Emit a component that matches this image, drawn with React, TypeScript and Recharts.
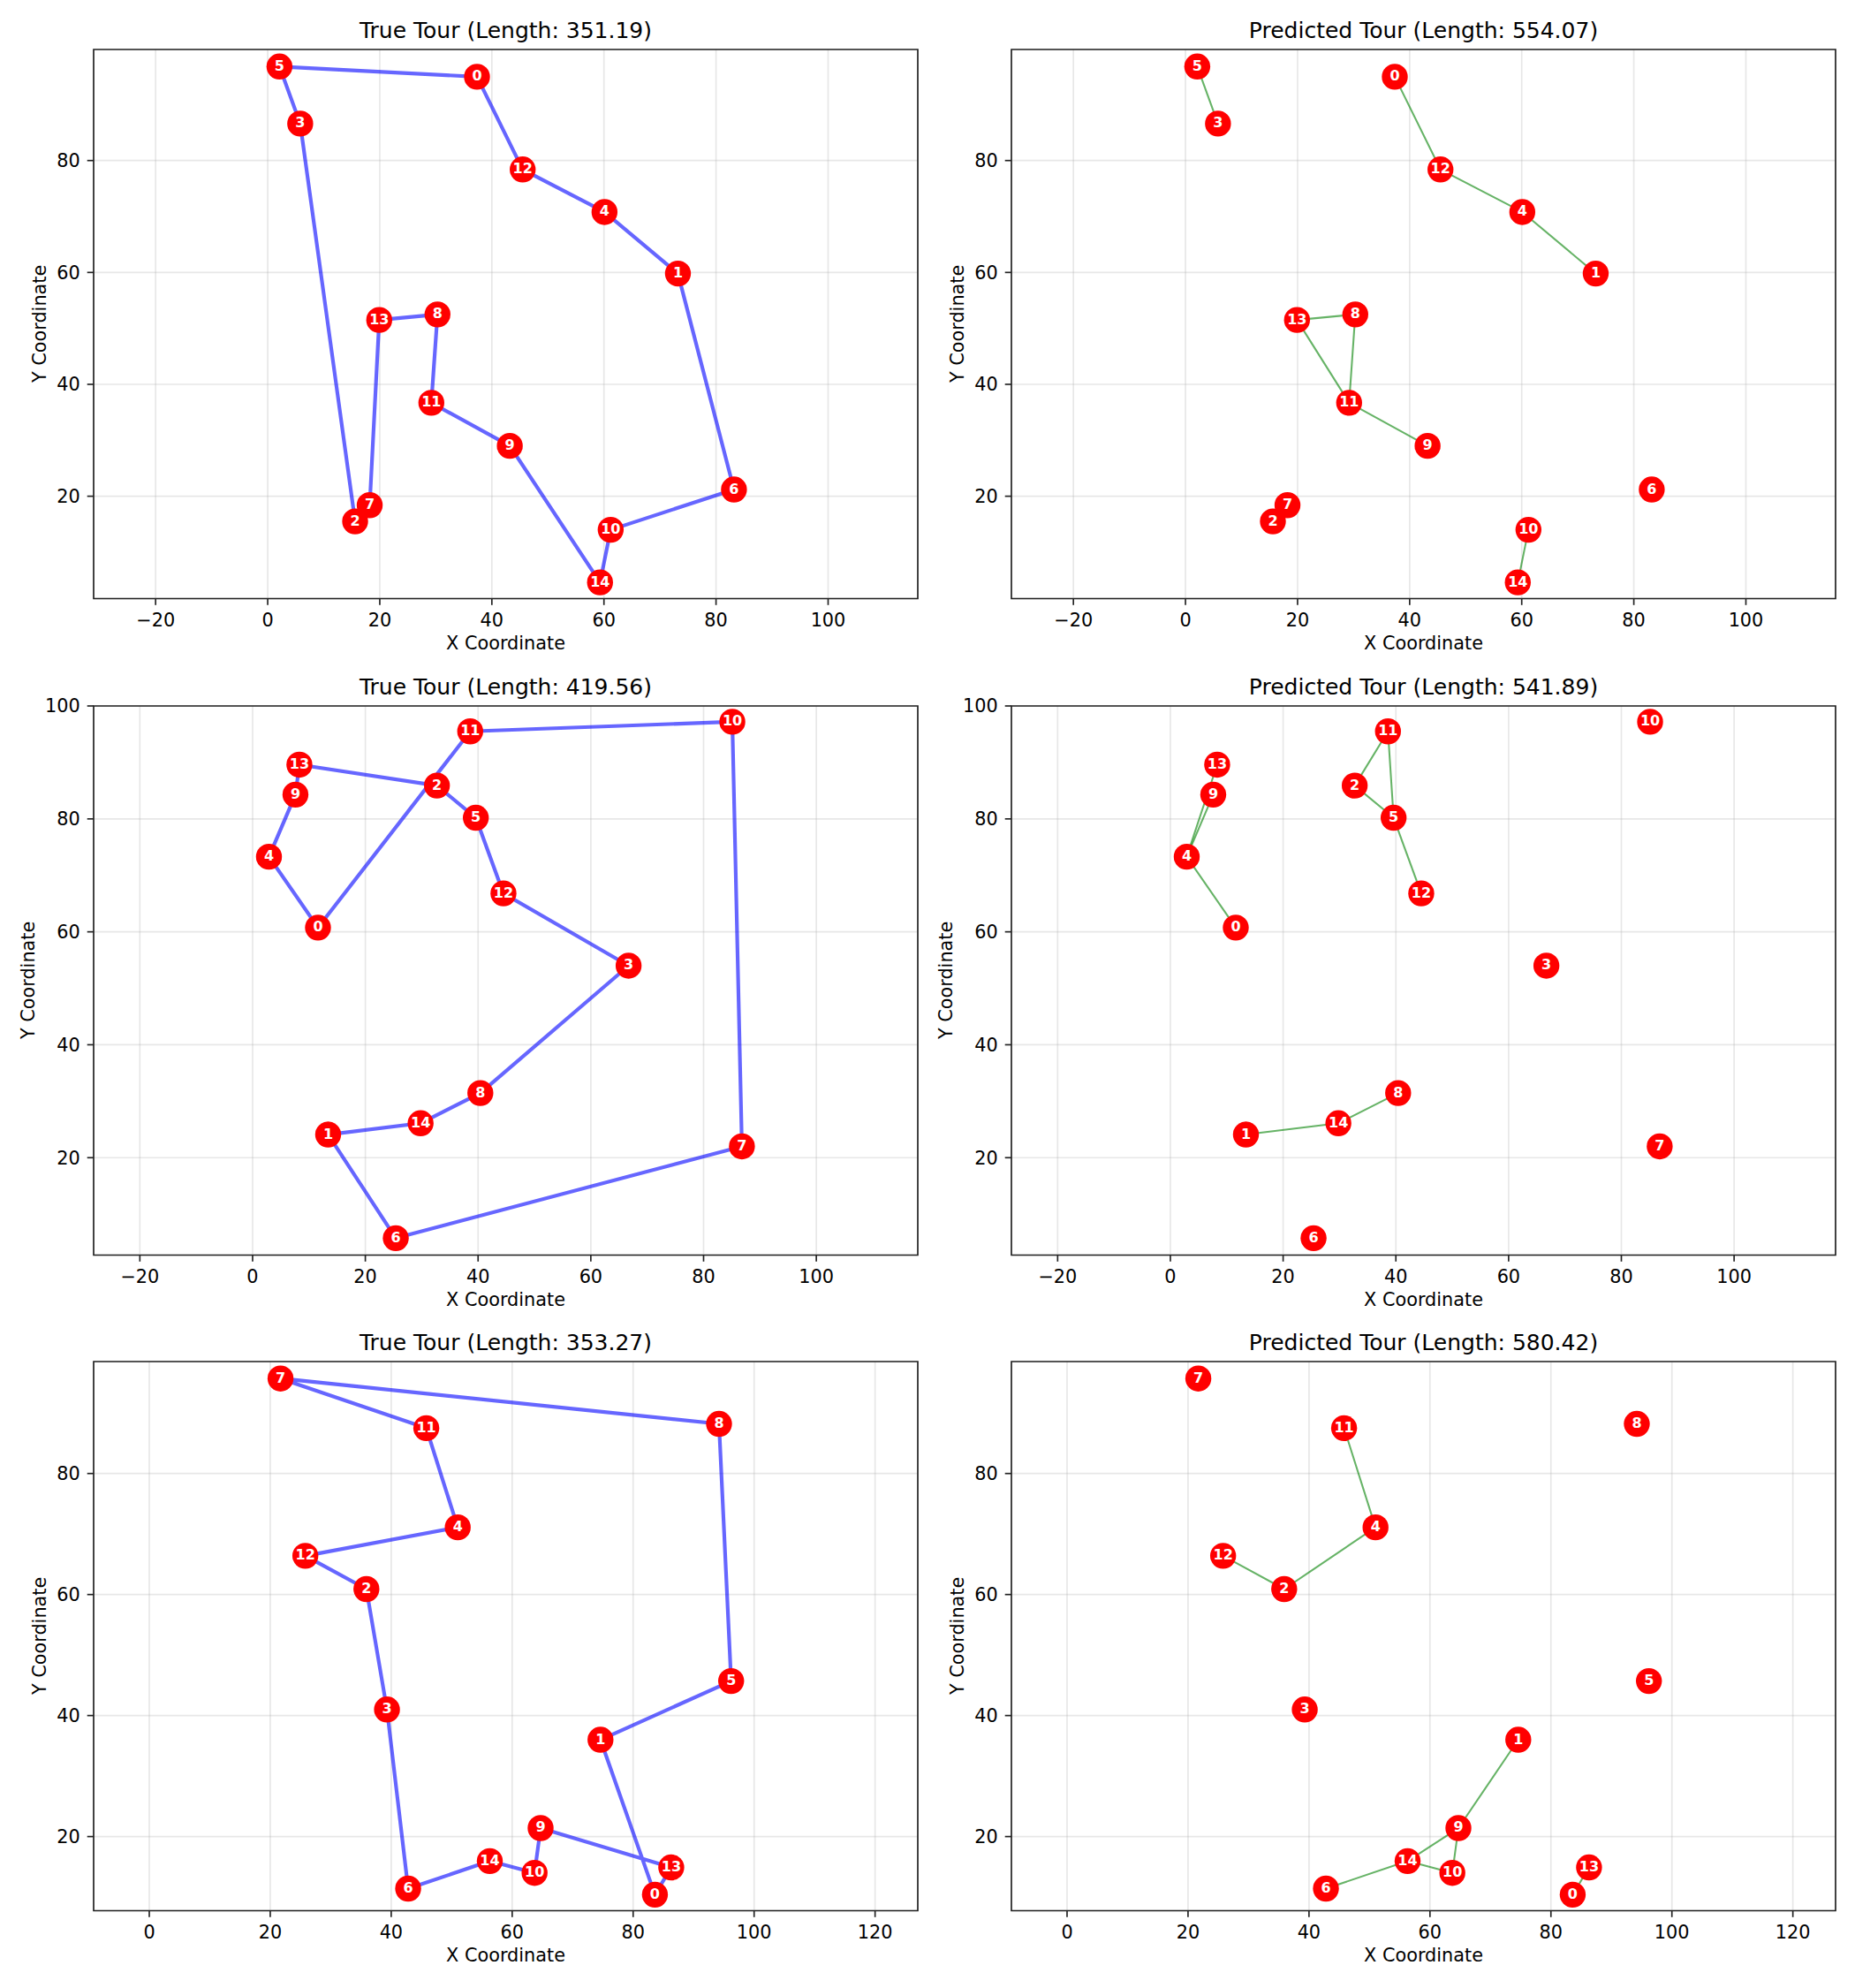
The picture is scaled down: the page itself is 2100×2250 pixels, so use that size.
import React from 'react';
import { ScatterChart, Scatter, XAxis, YAxis, CartesianGrid, ReferenceArea } from 'recharts';

// city coordinates, index = city id
const citiesX1 = [37.35, 73.2, 15.6, 5.8, 60.1, 2.1, 83.2, 18.2, 30.3, 43.2, 61.2, 29.2, 45.5, 19.9, 59.3];
const citiesY1 = [94.97, 59.8, 15.5, 86.6, 70.8, 96.8, 21.2, 18.4, 52.5, 29.0, 14.0, 36.7, 78.4, 51.5, 4.6];
const trueTour1 = [5, 0, 12, 4, 1, 6, 10, 14, 9, 11, 8, 13, 7, 2, 3];
const predPaths1 = [[5, 3], [0, 12, 4, 1], [9, 11, 13, 8, 11], [10, 14]];

const citiesX2 = [11.6, 13.4, 32.7, 66.7, 2.9, 39.6, 25.4, 86.8, 40.4, 7.6, 85.1, 38.6, 44.5, 8.3, 29.8];
const citiesY2 = [60.75, 24.1, 85.9, 54.0, 73.3, 80.2, 5.75, 22.0, 31.45, 84.3, 97.2, 95.5, 66.8, 89.6, 26.1];
const trueTour2 = [0, 4, 9, 13, 2, 5, 12, 3, 8, 14, 1, 6, 7, 10, 11];
const predPaths2 = [[13, 4, 0], [9, 4], [11, 2, 5, 11], [5, 12], [1, 14, 8]];

const citiesX3 = [83.6, 74.6, 35.9, 39.3, 51.0, 96.2, 42.8, 21.7, 94.2, 64.7, 63.7, 45.8, 25.8, 86.3, 56.3];
const citiesY3 = [10.4, 36.0, 60.9, 41.0, 71.1, 45.7, 11.4, 95.7, 88.2, 21.4, 14.0, 87.5, 66.4, 14.9, 15.95];
const trueTour3 = [7, 8, 5, 1, 0, 13, 9, 10, 14, 6, 3, 2, 12, 4, 11];
const predPaths3 = [[11, 4, 2, 12], [1, 9, 10, 14, 9], [14, 6], [0, 13]];

const tourLengths = [
  { truth: '351.19', pred: '554.07' },
  { truth: '419.56', pred: '541.89' },
  { truth: '353.27', pred: '580.42' },
];

const xTicksA = [-20, 0, 20, 40, 60, 80, 100];
const xTicksB = [0, 20, 40, 60, 80, 100, 120];
const yTicksA = [20, 40, 60, 80];
const yTicksB = [20, 40, 60, 80, 100];

// axis limits per row (equal aspect)
const xLims: [number, number][] = [[-31.06, 116.0], [-28.2, 118.0], [-9.2, 127.06]];
const yLims: [number, number][] = [[1.7, 99.85], [2.75, 100], [7.75, 98.5]];

const FONT = '"DejaVu Sans", sans-serif';
const PW = 933;
const PH = 621.5;
const COL_LEFT = [106, 1145];
const ROW_TOP = [56, 799, 1541];
const YW = 110;
const XH = 60;
const TP = 20;
const RP = 20;

const fmtTick = (v: number) => (v < 0 ? '\u2212' + Math.abs(v) : String(v));

const CityMarker = (props: any) => {
  const { cx, cy, payload } = props;
  return (
    <g>
      <circle cx={cx} cy={cy} r={14.7} fill="#ff0000" />
      <text x={cx} y={cy} dy="0.28em" textAnchor="middle" fill="#ffffff" fontWeight="bold" fontSize={16} fontFamily={FONT}>
        {payload.id}
      </text>
    </g>
  );
};

const Blank = () => <g />;

interface PanelProps {
  xs: number[];
  ys: number[];
  paths: number[][];
  color: string;
  lineWidth: number;
  title: string;
  plotLeft: number;
  plotTop: number;
  xDomain: [number, number];
  yDomain: [number, number];
  xTicks: number[];
  yTicks: number[];
  yLabelGap: number;
}

const Panel = ({ xs, ys, paths, color, lineWidth, title, plotLeft, plotTop, xDomain, yDomain, xTicks, yTicks, yLabelGap }: PanelProps) => {
  const nodes = xs.map((v, i) => ({ x: v, y: ys[i], id: i }));
  const segs = paths.map((p) => p.map((i) => nodes[i]));
  const tickStyle = { fill: '#000', fontSize: 20.8, fontFamily: FONT };
  const tickLine = { stroke: '#222', strokeWidth: 1.67 };

  return (
    <>
      <div style={{ position: 'absolute', left: plotLeft - YW, top: plotTop - TP }}>
        <ScatterChart width={YW + PW + RP} height={TP + PH + XH} margin={{ top: TP, right: RP, bottom: 0, left: 0 }}>
          <CartesianGrid stroke="#b0b0b0" strokeOpacity={0.3} strokeWidth={1.67} />
          <XAxis
            type="number"
            dataKey="x"
            domain={xDomain}
            ticks={xTicks}
            allowDataOverflow
            height={XH}
            axisLine={false}
            tickLine={tickLine}
            tickSize={7.3}
            tickMargin={9}
            tick={tickStyle}
            tickFormatter={fmtTick}
          />
          <YAxis
            type="number"
            dataKey="y"
            domain={yDomain}
            ticks={yTicks}
            allowDataOverflow
            width={YW}
            axisLine={false}
            tickLine={tickLine}
            tickSize={7.3}
            tickMargin={8}
            tick={tickStyle}
            tickFormatter={fmtTick}
          />
          {segs.map((s, k) => (
            <Scatter
              key={k}
              data={s}
              line={{ stroke: color, strokeWidth: lineWidth, strokeOpacity: 0.6, strokeLinejoin: 'round' }}
              shape={Blank}
              isAnimationActive={false}
            />
          ))}
          <Scatter data={nodes} shape={CityMarker} isAnimationActive={false} />
          <ReferenceArea
            x1={xDomain[0]}
            x2={xDomain[1]}
            y1={yDomain[0]}
            y2={yDomain[1]}
            fill="none"
            stroke="#222"
            strokeWidth={1.67}
          />
        </ScatterChart>
      </div>
      <div
        style={{
          position: 'absolute',
          left: plotLeft,
          top: plotTop - 34,
          width: PW,
          textAlign: 'center',
          fontFamily: FONT,
          fontSize: 25,
          lineHeight: '25px',
          whiteSpace: 'nowrap',
          color: '#000',
        }}
      >
        {title}
      </div>
      <div
        style={{
          position: 'absolute',
          left: plotLeft,
          top: plotTop + PH + 40.4,
          width: PW,
          textAlign: 'center',
          fontFamily: FONT,
          fontSize: 20.8,
          lineHeight: '20.8px',
          whiteSpace: 'nowrap',
          color: '#000',
        }}
      >
        X Coordinate
      </div>
      <div
        style={{
          position: 'absolute',
          left: plotLeft - yLabelGap - 200,
          top: plotTop + PH / 2 - 10.4,
          width: 400,
          textAlign: 'center',
          fontFamily: FONT,
          fontSize: 20.8,
          lineHeight: '20.8px',
          whiteSpace: 'nowrap',
          color: '#000',
          transform: 'rotate(-90deg)',
          transformOrigin: '50% 50%',
        }}
      >
        Y Coordinate
      </div>
    </>
  );
};

const instances = [
  { xs: citiesX1, ys: citiesY1, tour: trueTour1, pred: predPaths1 },
  { xs: citiesX2, ys: citiesY2, tour: trueTour2, pred: predPaths2 },
  { xs: citiesX3, ys: citiesY3, tour: trueTour3, pred: predPaths3 },
];

export default function App() {
  return (
    <div style={{ position: 'absolute', left: 0, top: 0, width: 2100, height: 2250, background: '#fff' }}>
      {instances.map((inst, r) => {
        const xTicks = r === 2 ? xTicksB : xTicksA;
        const yTicks = r === 1 ? yTicksB : yTicksA;
        const gap = r === 1 ? 73.6 : 60.6;
        const common = {
          xs: inst.xs,
          ys: inst.ys,
          plotTop: ROW_TOP[r],
          xDomain: xLims[r],
          yDomain: yLims[r],
          xTicks,
          yTicks,
          yLabelGap: gap,
        };
        return (
          <React.Fragment key={r}>
            <Panel
              {...common}
              paths={[[...inst.tour, inst.tour[0]]]}
              color="#0000ff"
              lineWidth={4.17}
              title={`True Tour (Length: ${tourLengths[r].truth})`}
              plotLeft={COL_LEFT[0]}
            />
            <Panel
              {...common}
              paths={inst.pred}
              color="#008000"
              lineWidth={2.08}
              title={`Predicted Tour (Length: ${tourLengths[r].pred})`}
              plotLeft={COL_LEFT[1]}
            />
          </React.Fragment>
        );
      })}
    </div>
  );
}
